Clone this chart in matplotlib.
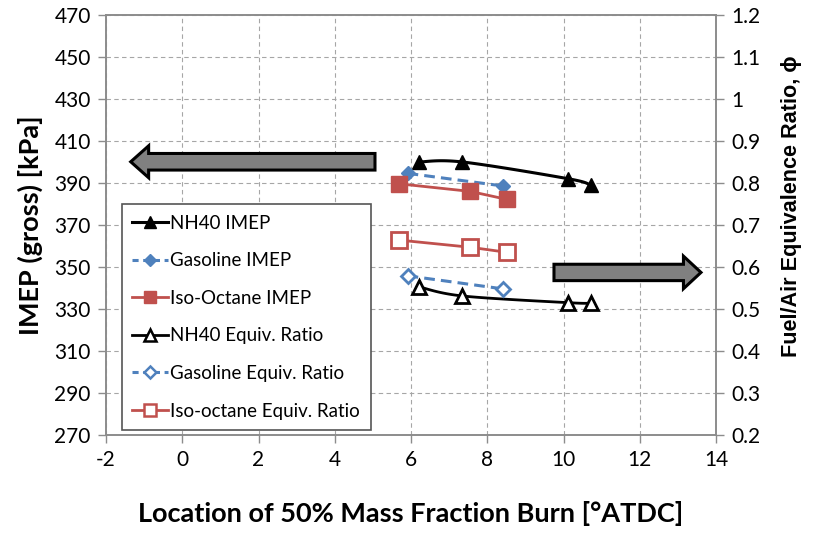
import numpy as np
import matplotlib
matplotlib.use('Agg')
import matplotlib.pyplot as plt
from matplotlib.patches import FancyArrow

plt.rcParams['font.family'] = ['Lato', 'DejaVu Sans']
plt.rcParams['axes.unicode_minus'] = False

# IMEP (left axis) vs CA50
nh40_x = [6.2, 7.35, 10.13, 10.71]
nh40_imep = [400.0, 400.0, 392.0, 389.0]
gas_x = [5.91, 8.40]
gas_imep = [394.6, 388.6]
iso_x = [5.69, 7.55, 8.51]
iso_imep = [389.6, 386.0, 382.2]

# equivalence ratio (right axis)
nh40_phi = [0.553, 0.531, 0.515, 0.514]
gas_phi = [0.579, 0.548]
iso_phi = [0.664, 0.647, 0.635]

xticks = np.arange(-2, 15, 2)
yticks_l = np.arange(270, 471, 20)
yticks_r = np.round(np.arange(0.2, 1.21, 0.1), 1)

BLUE = '#4F81BD'
RED = '#C0504D'
GRAY = '#8c8c8c'

XLIM = (-2, 14)


def smooth(x, y, ylim, n=40):
    # excel-style smoothed line: cubic bezier through the points,
    # computed in normalised (screen-like) units
    sx = (np.asarray(x) - XLIM[0]) / (XLIM[1] - XLIM[0])
    sy = (np.asarray(y) - ylim[0]) / (ylim[1] - ylim[0]) * 0.69
    p = np.column_stack([sx, sy])
    out = []
    for i in range(len(p) - 1):
        p0 = p[i]
        p3 = p[i + 1]
        prev = p[i - 1] if i > 0 else p[i]
        nxt = p[i + 2] if i + 2 < len(p) else p[i + 1]
        c1 = p0 + (p3 - prev) / 6
        c2 = p3 - (nxt - p0) / 6
        t = np.linspace(0, 1, n)[:, None]
        seg = ((1 - t) ** 3 * p0 + 3 * (1 - t) ** 2 * t * c1
               + 3 * (1 - t) * t ** 2 * c2 + t ** 3 * p3)
        out.append(seg if i == 0 else seg[1:])
    out = np.vstack(out)
    return (out[:, 0] * (XLIM[1] - XLIM[0]) + XLIM[0],
            out[:, 1] / 0.69 * (ylim[1] - ylim[0]) + ylim[0])


fig = plt.figure(figsize=(8.13, 5.33), dpi=100)
ax = fig.add_axes([0.1304, 0.1839, 0.7503, 0.7880])
ax2 = ax.twinx()

YL = (270, 470)
YR = (0.2, 1.2)
ax.set_xlim(*XLIM)
ax.set_ylim(*YL)
ax2.set_ylim(*YR)

ax.set_xticks(xticks)
ax.set_yticks(yticks_l)
ax2.set_yticks(yticks_r)
ax2.set_yticklabels(['%g' % v for v in yticks_r])

ax.grid(True, linestyle=(0, (4, 3)), color='#a6a6a6', linewidth=0.8)
ax.set_axisbelow(True)

for a in (ax, ax2):
    for s in a.spines.values():
        s.set_color(GRAY)
        s.set_linewidth(1.2)
    a.tick_params(direction='out', length=6, width=1, color=GRAY,
                  labelsize=15, pad=5)

# left axis series
xs, ys = smooth(nh40_x, nh40_imep, YL)
ax.plot(xs, ys, color='black', lw=2.2, zorder=3)
ax.plot(nh40_x, nh40_imep, ls='none', marker='^', ms=10, color='black', zorder=4)
ax.plot(gas_x, gas_imep, color=BLUE, lw=2.2, ls=(0, (3.5, 2)), marker='D', ms=7,
        mfc=BLUE, mec=BLUE, zorder=4)
ax.plot(iso_x, iso_imep, color=RED, lw=2.0, marker='s', ms=11,
        mfc=RED, mec=RED, zorder=4)

# right axis series
xs, ys = smooth(nh40_x, nh40_phi, YR)
ax2.plot(xs, ys, color='black', lw=2.0, zorder=3)
ax2.plot(nh40_x, nh40_phi, ls='none', marker='^', ms=10, mfc='white',
         mec='black', mew=2, zorder=4)
ax2.plot(gas_x, gas_phi, color=BLUE, lw=2.2, ls=(0, (3.5, 2)), marker='D', ms=7,
         mfc='white', mec=BLUE, mew=2, zorder=4)
ax2.plot(iso_x, iso_phi, color=RED, lw=2.0, marker='s', ms=11,
         mfc='white', mec=RED, mew=2, zorder=4)

# arrows pointing at the axis each group belongs to
ax.add_patch(FancyArrow(5.055, 400.1, -6.407, 0, width=7.9, head_width=15.2,
                        head_length=0.47, length_includes_head=True,
                        fc='#808080', ec='black', lw=2.2, zorder=5))
ax2.add_patch(FancyArrow(9.75, 0.587, 3.856, 0, width=0.039, head_width=0.0776,
                         head_length=0.46, length_includes_head=True,
                         fc='#808080', ec='black', lw=2.2, zorder=5))

# legend
h = [
    plt.Line2D([], [], color='black', lw=2.2, marker='^', ms=8),
    plt.Line2D([], [], color=BLUE, lw=2.2, ls=(0, (2, 1.5)), marker='D', ms=6),
    plt.Line2D([], [], color=RED, lw=2.0, marker='s', ms=9),
    plt.Line2D([], [], color='black', lw=2.0, marker='^', ms=8, mfc='white', mew=1.8),
    plt.Line2D([], [], color=BLUE, lw=2.2, ls=(0, (2, 1.5)), marker='D', ms=6,
               mfc='white', mew=1.8),
    plt.Line2D([], [], color=RED, lw=2.0, marker='s', ms=9, mfc='white', mew=1.8),
]
labels = ['NH40 IMEP', 'Gasoline IMEP', 'Iso-Octane IMEP', 'NH40 Equiv. Ratio',
          'Gasoline Equiv. Ratio', 'Iso-octane Equiv. Ratio']
leg = ax2.legend(h, labels, loc='lower left', bbox_to_anchor=(0.0257, 0.012),
                 borderaxespad=0, fontsize=13.5, handlelength=1.9, handletextpad=0.15,
                 labelspacing=1.1, borderpad=0.55, fancybox=False, framealpha=1,
                 edgecolor='#555555')
leg.get_frame().set_linewidth(1.2)
leg.set_zorder(10)

ax.set_xlabel('Location of 50% Mass Fraction Burn [°ATDC]', fontsize=19.5,
              fontweight='bold', labelpad=22)
ax.set_ylabel('IMEP (gross) [kPa]', fontsize=19.5, fontweight='bold', labelpad=8)
ax2.set_ylabel('Fuel/Air Equivalence Ratio, ϕ', fontsize=15.6, fontweight='bold',
               family=['Liberation Sans', 'DejaVu Sans'])
ax2.yaxis.set_label_coords(1.106, 0.545)

fig.savefig('out.png', dpi=100)
